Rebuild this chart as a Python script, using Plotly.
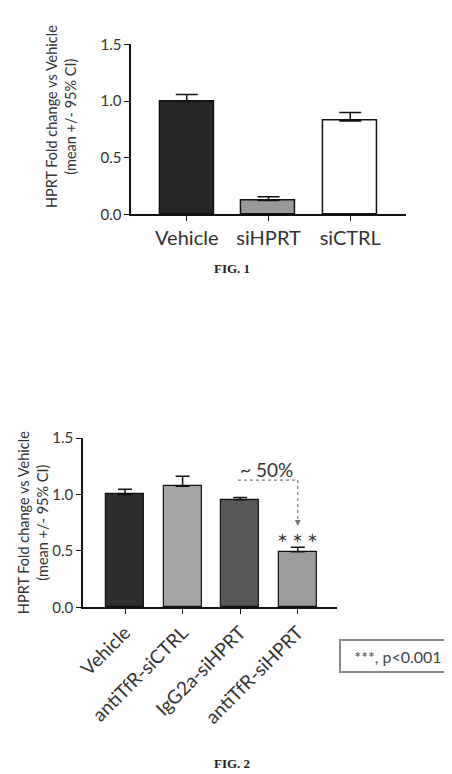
import plotly.graph_objects as go

# ---- data ----
fig1_categories = ["Vehicle", "siHPRT", "siCTRL"]
fig1_values = [1.0, 0.123, 0.825]
fig1_err_upper = [0.058, 0.032, 0.074]
fig1_colors = ["#262626", "#9a9a9a", "#ffffff"]

fig2_categories = ["Vehicle", "antiTfR-siCTRL", "IgG2a-siHPRT", "antiTfR-siHPRT"]
fig2_values = [1.0, 1.073, 0.952, 0.493]
fig2_err_upper = [0.047, 0.089, 0.022, 0.040]
fig2_colors = ["#2e2e2e", "#a6a6a6", "#575757", "#9c9c9c"]

y_ticks = [0.0, 0.5, 1.0, 1.5]
y_tick_labels = ["0.0", "0.5", "1.0", "1.5"]
y_title_lines = ["HPRT Fold change vs Vehicle", "(mean +/- 95% CI)"]

FONT = "Lato"
TXT = "#333333"

fig = go.Figure()

fig.add_trace(go.Bar(
    x=fig1_categories, y=fig1_values, width=0.66,
    marker=dict(color=fig1_colors, line=dict(color="#111111", width=1.5)),
    error_y=dict(type="data", array=fig1_err_upper, arrayminus=[0] * 3,
                 symmetric=False, color="#111111", thickness=1.6, width=11),
    xaxis="x", yaxis="y", showlegend=False,
))

fig.add_trace(go.Bar(
    x=fig2_categories, y=fig2_values, width=0.66,
    marker=dict(color=fig2_colors, line=dict(color="#111111", width=1.2)),
    error_y=dict(type="data", array=fig2_err_upper, arrayminus=[0] * 4,
                 symmetric=False, color="#111111", thickness=1.5, width=7),
    xaxis="x2", yaxis="y2", showlegend=False,
))

axis_common = dict(showline=True, linecolor="#111111", linewidth=1.5,
                   ticks="outside", ticklen=5, tickwidth=1.3, tickcolor="#111111",
                   showgrid=False, zeroline=False)

fig.update_layout(
    width=452, height=774,
    margin=dict(l=0, r=0, t=0, b=0),
    paper_bgcolor="white", plot_bgcolor="white",
    font=dict(family=FONT, color=TXT),
    bargap=0,
    xaxis=dict(domain=[0.2611, 0.8783], anchor="y", type="category",
               range=[-0.68, 2.68], tickfont=dict(size=20, color=TXT),
               **axis_common),
    yaxis=dict(domain=[0.7403, 0.9651], anchor="x", range=[0, 1.5],
               tickvals=y_ticks, ticktext=y_tick_labels,
               tickfont=dict(size=15, color=TXT), **axis_common),
    xaxis2=dict(domain=[0.1527, 0.7235], anchor="y2", type="category",
                range=[-0.73, 3.68], tickangle=-45,
                tickfont=dict(size=19, color=TXT), **axis_common),
    yaxis2=dict(domain=[0.2205, 0.4444], anchor="x2", range=[0, 1.5],
                tickvals=y_ticks, ticktext=y_tick_labels,
                tickfont=dict(size=15, color=TXT),
                title=dict(text="<br>".join(y_title_lines), standoff=0,
                           font=dict(family=FONT, size=14.5, color=TXT)),
                **axis_common),
)

W, H = 452, 774

# y-axis title of FIG. 1 (placed slightly above the axis centre as in the reference)
for line, xp in zip(y_title_lines, (37, 57)):
    fig.add_annotation(xref="paper", yref="paper", x=xp / W, y=1 - 101 / H,
                       xanchor="center", yanchor="middle",
                       text=line, textangle=-90, showarrow=False,
                       font=dict(family=FONT, size=14.5, color=TXT))

# figure captions
fig.add_annotation(xref="paper", yref="paper", x=0.487, y=1 - 256 / H,
                   xanchor="center", yanchor="middle",
                   text="<b>FIG. 1</b>", showarrow=False,
                   font=dict(family="Liberation Serif", size=13, color="#222222"))
fig.add_annotation(xref="paper", yref="paper", x=0.487, y=1 - 763 / H,
                   xanchor="center", yanchor="middle",
                   text="<b>FIG. 2</b>", showarrow=False,
                   font=dict(family="Liberation Serif", size=13, color="#222222"))

# bracket (~50%)
br_y = 1.127
fig.add_shape(type="line", xref="x2", yref="y2", x0=1.96, x1=3, y0=br_y, y1=br_y,
              line=dict(color="#777777", width=1.2, dash="dot"))
fig.add_shape(type="line", xref="x2", yref="y2", x0=3, x1=3, y0=br_y, y1=0.76,
              line=dict(color="#777777", width=1.2, dash="dot"))
fig.add_annotation(xref="x2", yref="y2", x=3, y=0.72, ax=3, ay=0.78,
                   axref="x2", ayref="y2", text="", showarrow=True,
                   arrowhead=2, arrowsize=1, arrowwidth=1.2, arrowcolor="#777777")
fig.add_annotation(xref="x2", yref="y2", x=2.45, y=1.225, text="~ 50%",
                   xanchor="center", yanchor="middle",
                   showarrow=False, font=dict(family=FONT, size=19, color=TXT))
fig.add_annotation(xref="x2", yref="y2", x=3, y=0.615, text="∗ ∗ ∗",
                   xanchor="center", yanchor="middle",
                   showarrow=False, font=dict(family="DejaVu Sans", size=13, color=TXT))

# p-value box
fig.add_annotation(xref="paper", yref="paper", x=389.5 / W, y=1 - 653 / H,
                   xanchor="center", yanchor="middle",
                   text="***, p<0.001", showarrow=False,
                   font=dict(family=FONT, size=16, color="#444444"),
                   bordercolor="#888888", borderwidth=2, borderpad=5,
                   bgcolor="white", width=104, height=20)

fig.write_html("out.html")
